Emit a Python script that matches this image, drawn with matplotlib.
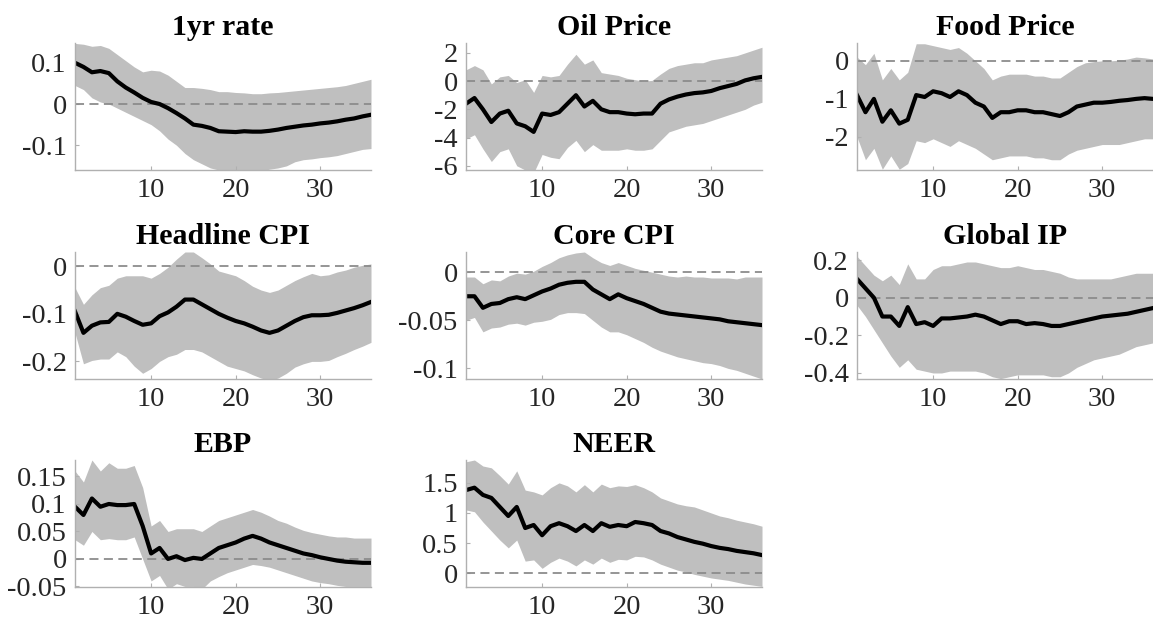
import numpy as np
import matplotlib
matplotlib.use("Agg")
import matplotlib.pyplot as plt

plt.rcParams['font.family'] = ['Liberation Serif', 'DejaVu Serif']
plt.rcParams['axes.unicode_minus'] = False

# horizon (months)
t = np.arange(1, 37)

# -------------------------------
# data: median, lower band, upper band
# -------------------------------
rate_med = [0.1, 0.09, 0.077, 0.08, 0.075, 0.055, 0.04, 0.028, 0.015, 0.005, 0.0, -0.01,
            -0.022, -0.035, -0.05, -0.053, -0.058, -0.066, -0.067, -0.068, -0.066, -0.067,
            -0.067, -0.065, -0.062, -0.058, -0.055, -0.052, -0.05, -0.047, -0.045, -0.042,
            -0.038, -0.035, -0.03, -0.026]
rate_lo = [0.045, 0.035, 0.015, 0.005, 0.0, -0.01, -0.02, -0.03, -0.04, -0.05, -0.065, -0.085,
           -0.1, -0.12, -0.135, -0.145, -0.155, -0.16, -0.162, -0.162, -0.162, -0.162,
           -0.162, -0.158, -0.155, -0.15, -0.14, -0.135, -0.133, -0.13, -0.128, -0.125,
           -0.12, -0.115, -0.11, -0.108]
rate_hi = [0.147, 0.145, 0.14, 0.142, 0.135, 0.12, 0.105, 0.09, 0.078, 0.082, 0.08, 0.07,
           0.055, 0.04, 0.04, 0.038, 0.035, 0.03, 0.03, 0.028, 0.027, 0.025, 0.025, 0.027,
           0.028, 0.03, 0.032, 0.034, 0.036, 0.038, 0.04, 0.042, 0.045, 0.05, 0.055, 0.06]

oil_med = [-1.6, -1.2, -2.0, -2.9, -2.3, -2.1, -3.0, -3.2, -3.6, -2.3, -2.4, -2.2, -1.6, -1.0,
           -1.8, -1.4, -2.0, -2.2, -2.2, -2.3, -2.35, -2.3, -2.3, -1.6, -1.3, -1.1, -0.95,
           -0.85, -0.8, -0.7, -0.5, -0.35, -0.2, 0.05, 0.2, 0.3]
oil_lo = [-4.1, -3.8, -4.8, -5.7, -5.0, -4.8, -6.0, -6.3, -6.5, -5.2, -5.4, -5.5, -4.7, -4.2,
          -5.0, -4.5, -4.9, -4.9, -4.9, -4.8, -4.9, -4.9, -4.8, -4.2, -3.6, -3.4, -3.2, -3.1,
          -3.0, -2.8, -2.6, -2.4, -2.2, -2.0, -1.7, -1.5]
oil_hi = [0.8, 1.1, 0.8, -0.2, 0.3, 0.4, -0.1, 0.1, -0.8, 0.4, 0.3, 0.4, 1.2, 1.9, 1.2, 1.5,
          0.6, 0.5, 0.4, 0.2, 0.1, 0.0, 0.05, 0.5, 0.9, 1.1, 1.2, 1.3, 1.3, 1.5, 1.6, 1.7,
          1.8, 2.0, 2.2, 2.4]

food_med = [-0.9, -1.35, -1.0, -1.6, -1.3, -1.65, -1.55, -0.9, -0.95, -0.8, -0.85, -0.95,
            -0.8, -0.9, -1.1, -1.2, -1.5, -1.35, -1.35, -1.3, -1.3, -1.35, -1.35, -1.4,
            -1.45, -1.35, -1.2, -1.15, -1.1, -1.1, -1.08, -1.05, -1.03, -1.0, -0.98, -1.0]
food_lo = [-2.0, -2.6, -2.3, -2.85, -2.5, -2.85, -2.7, -2.1, -2.15, -2.05, -2.15, -2.25,
           -2.1, -2.2, -2.3, -2.45, -2.6, -2.55, -2.5, -2.5, -2.5, -2.55, -2.55, -2.6, -2.6,
           -2.45, -2.35, -2.3, -2.25, -2.2, -2.2, -2.2, -2.15, -2.1, -2.05, -2.05]
food_hi = [0.1, -0.1, 0.2, -0.5, -0.2, -0.5, -0.3, 0.45, 0.45, 0.4, 0.35, 0.3, 0.35, 0.2,
           0.0, -0.2, -0.5, -0.4, -0.35, -0.35, -0.35, -0.4, -0.4, -0.45, -0.45, -0.3,
           -0.15, -0.05, -0.02, 0.0, 0.0, 0.02, 0.05, 0.1, 0.08, 0.05]

cpi_med = [-0.095, -0.14, -0.125, -0.118, -0.117, -0.1, -0.106, -0.115, -0.123, -0.12,
           -0.105, -0.097, -0.085, -0.07, -0.07, -0.08, -0.09, -0.1, -0.108, -0.115, -0.12,
           -0.127, -0.135, -0.14, -0.135, -0.125, -0.115, -0.107, -0.103, -0.103, -0.102,
           -0.098, -0.093, -0.088, -0.082, -0.075]
cpi_lo = [-0.14, -0.205, -0.198, -0.195, -0.195, -0.18, -0.19, -0.21, -0.225, -0.215, -0.2,
          -0.19, -0.185, -0.175, -0.175, -0.18, -0.19, -0.2, -0.21, -0.215, -0.22, -0.228,
          -0.235, -0.24, -0.235, -0.225, -0.212, -0.205, -0.2, -0.2, -0.198, -0.19, -0.183,
          -0.175, -0.168, -0.16]
cpi_hi = [-0.045, -0.08, -0.06, -0.045, -0.04, -0.025, -0.02, -0.02, -0.02, -0.025, -0.015,
          -0.002, 0.015, 0.03, 0.03, 0.018, 0.005, -0.01, -0.015, -0.02, -0.03, -0.042,
          -0.05, -0.055, -0.05, -0.04, -0.03, -0.022, -0.015, -0.02, -0.018, -0.012,
          -0.008, -0.002, 0.002, 0.005]

core_med = [-0.025, -0.025, -0.037, -0.033, -0.032, -0.028, -0.026, -0.028, -0.024, -0.02,
            -0.017, -0.013, -0.011, -0.01, -0.01, -0.018, -0.023, -0.028, -0.023, -0.027,
            -0.03, -0.033, -0.037, -0.041, -0.043, -0.044, -0.045, -0.046, -0.047, -0.048,
            -0.049, -0.051, -0.052, -0.053, -0.054, -0.055]
core_lo = [-0.05, -0.047, -0.062, -0.058, -0.057, -0.054, -0.053, -0.055, -0.052, -0.051,
           -0.049, -0.044, -0.042, -0.042, -0.043, -0.05, -0.057, -0.062, -0.062, -0.065,
           -0.069, -0.073, -0.078, -0.082, -0.085, -0.088, -0.09, -0.092, -0.094, -0.095,
           -0.097, -0.1, -0.102, -0.105, -0.108, -0.111]
core_hi = [-0.005, -0.005, -0.012, -0.008, -0.009, -0.004, -0.001, -0.002, 0.001, 0.006,
           0.01, 0.015, 0.018, 0.02, 0.021, 0.015, 0.01, 0.007, 0.01, 0.007, 0.004, 0.002,
           0.0, -0.002, -0.004, -0.005, -0.004, -0.005, -0.005, -0.006, -0.006, -0.006,
           -0.007, -0.005, -0.005, -0.005]

ip_med = [0.1, 0.05, 0.0, -0.1, -0.1, -0.15, -0.05, -0.14, -0.13, -0.15, -0.11, -0.11,
          -0.105, -0.1, -0.09, -0.1, -0.12, -0.14, -0.125, -0.125, -0.14, -0.135, -0.14,
          -0.15, -0.15, -0.14, -0.13, -0.12, -0.11, -0.1, -0.095, -0.09, -0.085, -0.075,
          -0.065, -0.055]
ip_lo = [-0.04, -0.1, -0.17, -0.24, -0.31, -0.37, -0.33, -0.38, -0.39, -0.4, -0.4, -0.39,
         -0.39, -0.39, -0.39, -0.4, -0.42, -0.43, -0.42, -0.41, -0.41, -0.41, -0.41, -0.42,
         -0.42, -0.4, -0.37, -0.35, -0.33, -0.32, -0.31, -0.3, -0.28, -0.26, -0.25, -0.24]
ip_hi = [0.22, 0.17, 0.12, 0.09, 0.12, 0.07, 0.18, 0.1, 0.1, 0.15, 0.17, 0.17, 0.18, 0.19,
         0.19, 0.18, 0.17, 0.16, 0.16, 0.17, 0.16, 0.15, 0.15, 0.14, 0.13, 0.11, 0.1, 0.1,
         0.1, 0.1, 0.1, 0.11, 0.12, 0.13, 0.13, 0.13]

ebp_med = [0.095, 0.08, 0.11, 0.095, 0.1, 0.098, 0.098, 0.1, 0.06, 0.01, 0.02, 0.0, 0.005,
           -0.002, 0.002, 0.0, 0.01, 0.02, 0.025, 0.03, 0.037, 0.042, 0.037, 0.03, 0.025,
           0.02, 0.015, 0.01, 0.007, 0.003, 0.0, -0.003, -0.005, -0.006, -0.007, -0.007]
ebp_lo = [0.035, 0.025, 0.05, 0.035, 0.037, 0.035, 0.035, 0.04, 0.0, -0.04, -0.03, -0.055,
          -0.045, -0.05, -0.05, -0.055, -0.04, -0.032, -0.025, -0.02, -0.015, -0.01, -0.012,
          -0.015, -0.02, -0.025, -0.03, -0.035, -0.04, -0.043, -0.045, -0.048, -0.05, -0.05,
          -0.05, -0.05]
ebp_hi = [0.16, 0.14, 0.18, 0.16, 0.175, 0.165, 0.165, 0.17, 0.13, 0.06, 0.07, 0.05, 0.055,
          0.055, 0.055, 0.05, 0.06, 0.07, 0.075, 0.08, 0.085, 0.09, 0.085, 0.078, 0.07,
          0.065, 0.058, 0.052, 0.048, 0.045, 0.042, 0.04, 0.04, 0.038, 0.038, 0.038]

neer_med = [1.38, 1.42, 1.3, 1.25, 1.1, 0.95, 1.1, 0.75, 0.8, 0.63, 0.78, 0.83, 0.78, 0.7,
            0.8, 0.7, 0.83, 0.77, 0.8, 0.78, 0.85, 0.83, 0.8, 0.7, 0.66, 0.6, 0.56, 0.52,
            0.49, 0.45, 0.42, 0.4, 0.37, 0.35, 0.33, 0.3]
neer_lo = [1.05, 1.02, 0.85, 0.7, 0.55, 0.42, 0.55, 0.2, 0.22, 0.08, 0.18, 0.25, 0.2, 0.12,
           0.22, 0.15, 0.25, 0.18, 0.23, 0.22, 0.28, 0.27, 0.22, 0.15, 0.1, 0.05, 0.02,
           -0.02, -0.05, -0.08, -0.1, -0.12, -0.15, -0.18, -0.2, -0.22]
neer_hi = [1.85, 1.88, 1.78, 1.75, 1.62, 1.48, 1.7, 1.38, 1.35, 1.3, 1.42, 1.5, 1.45, 1.35,
           1.47, 1.35, 1.48, 1.42, 1.45, 1.44, 1.47, 1.42, 1.35, 1.25, 1.2, 1.15, 1.12, 1.1,
           1.05, 1.0, 0.95, 0.92, 0.88, 0.85, 0.82, 0.78]

titles = ["1yr rate", "Oil Price", "Food Price", "Headline CPI", "Core CPI", "Global IP",
          "EBP", "NEER"]
meds = [rate_med, oil_med, food_med, cpi_med, core_med, ip_med, ebp_med, neer_med]
lows = [rate_lo, oil_lo, food_lo, cpi_lo, core_lo, ip_lo, ebp_lo, neer_lo]
highs = [rate_hi, oil_hi, food_hi, cpi_hi, core_hi, ip_hi, ebp_hi, neer_hi]
ylims = [(-0.16, 0.148), (-6.3, 2.7), (-2.87, 0.47), (-0.237, 0.03), (-0.111, 0.021),
         (-0.432, 0.243), (-0.051, 0.18), (-0.23, 1.88)]
yticks = [[-0.1, 0, 0.1], [-6, -4, -2, 0, 2], [-2, -1, 0], [-0.2, -0.1, 0],
          [-0.1, -0.05, 0], [-0.4, -0.2, 0, 0.2], [-0.05, 0, 0.05, 0.1, 0.15],
          [0, 0.5, 1, 1.5]]
ytick_labels = [["-0.1", "0", "0.1"], ["-6", "-4", "-2", "0", "2"], ["-2", "-1", "0"],
                ["-0.2", "-0.1", "0"], ["-0.1", "-0.05", "0"], ["-0.4", "-0.2", "0", "0.2"],
                ["-0.05", "0", "0.05", "0.1", "0.15"], ["0", "0.5", "1", "1.5"]]

# -------------------------------
# figure
# -------------------------------
fig = plt.figure(figsize=(11.53, 6.3), dpi=100)

W, H = 1153, 630
col_left = [75, 466, 857]
row_top = [43, 252, 460]
ax_w, ax_h = 296, 127

for i in range(8):
    r, c = divmod(i, 3)
    ax = fig.add_axes([col_left[c] / W, 1 - (row_top[r] + ax_h) / H, ax_w / W, ax_h / H])
    ax.fill_between(t, lows[i], highs[i], color="#bfbfbf", linewidth=0)
    ax.axhline(0, color="#8c8c8c", linestyle=(0, (5, 3)), linewidth=1.3)
    ax.plot(t, meds[i], color="black", linewidth=3.0)
    ax.set_xlim(1, 36)
    ax.set_ylim(*ylims[i])
    ax.set_xticks([10, 20, 30])
    ax.set_yticks(yticks[i])
    ax.set_yticklabels(ytick_labels[i])
    ax.set_title(titles[i], fontsize=21.5, fontweight="bold", pad=6)
    for s in ["top", "right"]:
        ax.spines[s].set_visible(False)
    for s in ["left", "bottom"]:
        ax.spines[s].set_color("#b0b0b0")
        ax.spines[s].set_linewidth(1.0)
    ax.tick_params(direction="in", length=3, width=0.8, color="#b0b0b0",
                   labelsize=20.5, labelcolor="#262626", pad=6)

plt.savefig("out.png", dpi=100)
